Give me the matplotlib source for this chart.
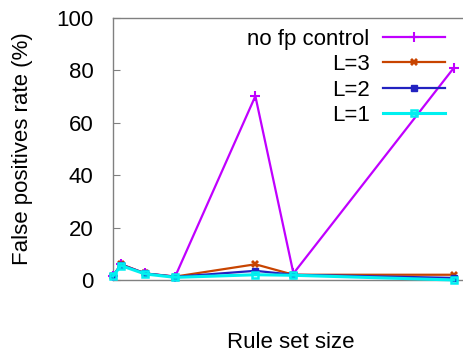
import matplotlib
matplotlib.use("Agg")
import matplotlib.pyplot as plt

# rule set size (relative position, axis is unlabelled)
rule_size = [0, 8, 32, 62, 142, 180, 340]

no_fp = [1.5, 6.0, 2.5, 1.3, 70.2, 2.5, 81.0]
l3 = [1.5, 6.0, 2.5, 1.3, 6.0, 2.0, 2.0]
l2 = [1.5, 5.8, 2.5, 1.2, 3.5, 2.0, 0.8]
l1 = [1.5, 5.5, 2.3, 1.0, 2.0, 1.8, 0.0]

plt.rcParams['font.family'] = ['Liberation Sans', 'DejaVu Sans']
fs = 16

fig = plt.figure(figsize=(4.64, 3.58), dpi=100)
ax = fig.add_axes([0.2435, 0.2179, 0.752, 0.7318])

ax.plot(rule_size, no_fp, color='#c000ff', lw=1.6, marker='+', ms=7, mew=1.5,
        label='no fp control', clip_on=False, zorder=3)
ax.plot(rule_size, l3, color='#c84400', lw=1.6, marker='X', ms=6, mew=0,
        label='L=3', clip_on=False, zorder=4)
ax.plot(rule_size, l2, color='#2222c0', lw=1.6, marker='s', ms=5,
        label='L=2', clip_on=False, zorder=5)
ax.plot(rule_size, l1, color='#00f0f0', lw=2.2, marker='s', ms=5, mfc='none',
        mew=1.8, label='L=1', clip_on=False, zorder=6)

ax.set_xlim(0, 348)
ax.set_ylim(0, 100)
ax.set_yticks([0, 20, 40, 60, 80, 100])
ax.set_xticks([])
ax.tick_params(axis='y', direction='in', length=5, width=0.8, color='#808080',
               labelsize=fs, pad=14)
for s in ['left', 'top', 'bottom']:
    ax.spines[s].set_color('#808080')
    ax.spines[s].set_linewidth(1)
ax.spines['right'].set_visible(False)

ax.set_ylabel('False positives rate (%)', fontsize=fs, labelpad=17)
ax.set_xlabel('Rule set size', fontsize=fs, labelpad=40)
ax.xaxis.set_label_coords(0.51, -0.2)

leg = ax.legend(loc='upper right', bbox_to_anchor=(0.99, 1.01), frameon=False,
                markerfirst=False, fontsize=fs, handlelength=2.8,
                labelspacing=0.2, handletextpad=0.6, borderaxespad=0.2)
for col in leg._legend_handle_box.get_children():
    col.align = 'right'

fig.savefig('out.png', dpi=100)
